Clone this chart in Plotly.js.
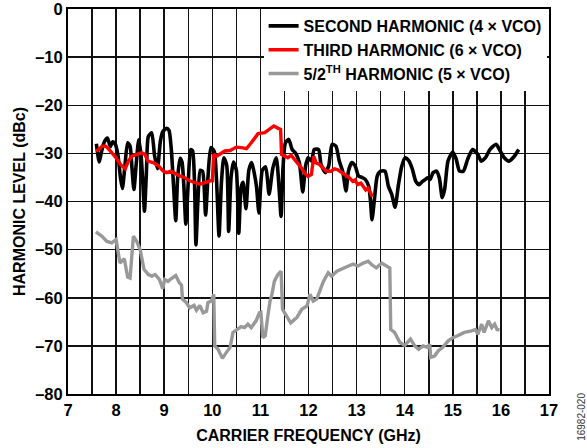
<!DOCTYPE html>
<html>
<head>
<meta charset="utf-8">
<script src="https://cdn.plot.ly/plotly-3.0.1.min.js"></script>
<style>html,body{margin:0;padding:0;background:#fff;}#chart{width:587px;height:448px;}</style>
</head>
<body>
<div id="chart"></div>
<script>
// SECOND HARMONIC (4 x VCO)
const secondX = [7.59,7.65,7.70,7.76,7.82,7.88,7.93,7.98,8.04,8.09,8.13,8.18,8.24,8.29,8.33,8.37,8.42,8.47,8.52,8.56,8.59,8.63,8.67,8.74,8.80,8.86,8.92,8.97,9.05,9.10,9.15,9.19,9.24,9.28,9.33,9.37,9.41,9.45,9.50,9.55,9.59,9.63,9.66,9.70,9.75,9.80,9.86,9.91,9.97,10.04,10.09,10.14,10.19,10.24,10.30,10.34,10.39,10.44,10.50,10.55,10.60,10.64,10.70,10.76,10.82,10.88,10.92,10.97,11.04,11.11,11.18,11.26,11.33,11.39,11.43,11.47,11.52,11.59,11.66,11.73,11.81,11.88,11.94,11.99,12.06,12.12,12.21,12.26,12.35,12.42,12.49,12.57,12.64,12.71,12.78,12.83,12.90,12.97,13.04,13.11,13.18,13.25,13.29,13.32,13.37,13.43,13.50,13.59,13.66,13.73,13.80,13.87,13.94,14.01,14.09,14.16,14.23,14.30,14.37,14.43,14.48,14.53,14.59,14.66,14.72,14.78,14.83,14.90,15.00,15.07,15.14,15.22,15.31,15.41,15.52,15.59,15.68,15.77,15.90,15.97,16.07,16.17,16.28,16.37];
const secondY = [-28.0,-31.8,-29.5,-27.5,-26.8,-28.6,-27.6,-28.0,-30.5,-35.0,-37.3,-33.0,-27.8,-28.5,-33.0,-37.5,-32.0,-27.2,-30.5,-37.0,-42.0,-34.0,-26.5,-25.7,-30.5,-33.2,-27.5,-25.5,-24.8,-25.2,-29.5,-36.0,-44.0,-35.0,-31.0,-31.8,-37.0,-44.7,-36.0,-29.2,-29.5,-36.0,-49.0,-40.0,-33.5,-33.8,-42.8,-35.0,-28.8,-29.6,-36.0,-47.2,-36.0,-30.9,-32.5,-46.2,-35.0,-31.8,-33.5,-46.6,-37.0,-36.0,-41.5,-33.5,-31.9,-34.5,-37.0,-42.4,-33.5,-32.8,-38.5,-33.0,-30.9,-37.5,-43.1,-33.0,-27.8,-27.1,-29.2,-29.9,-31.9,-38.0,-32.6,-30.9,-31.6,-29.2,-29.2,-32.3,-34.0,-32.6,-28.1,-28.5,-31.6,-33.7,-37.8,-33.7,-31.9,-32.6,-34.7,-35.0,-35.4,-36.8,-40.0,-43.8,-39.6,-34.7,-33.7,-33.7,-36.8,-38.5,-41.2,-36.5,-32.6,-30.9,-31.6,-33.3,-35.8,-36.5,-35.8,-35.4,-35.1,-35.4,-34.0,-33.7,-35.1,-39.2,-37.5,-31.6,-29.7,-31.2,-33.7,-33.7,-31.2,-29.2,-30.2,-31.6,-30.9,-29.2,-28.1,-29.2,-30.9,-31.6,-30.6,-29.2];

// THIRD HARMONIC (6 x VCO)
const thirdX = [7.58,7.64,7.71,7.78,7.82,7.88,7.99,8.09,8.19,8.26,8.33,8.43,8.53,8.60,8.66,8.77,8.88,8.98,9.05,9.14,9.25,9.32,9.42,9.53,9.63,9.74,9.85,9.95,10.00,10.03,10.09,10.16,10.26,10.37,10.50,10.61,10.71,10.81,10.95,11.09,11.19,11.28,11.37,11.42,11.44,11.50,11.57,11.64,11.71,11.78,11.85,11.92,11.99,12.06,12.11,12.16,12.23,12.30,12.37,12.47,12.54,12.61,12.69,12.78,12.85,12.92,12.97,13.02,13.09,13.14,13.19,13.24,13.30,13.33];
const thirdY = [-29.5,-29.2,-28.5,-28.5,-28.8,-29.5,-30.8,-32.3,-33.2,-31.5,-30.6,-30.2,-29.9,-30.2,-31.6,-31.9,-32.6,-33.7,-34.0,-33.7,-34.3,-34.7,-35.0,-35.7,-36.0,-36.4,-36.1,-35.7,-35.7,-30.2,-30.6,-30.2,-29.5,-29.4,-28.7,-28.8,-29.0,-27.8,-25.9,-25.7,-25.0,-24.3,-24.8,-25.0,-30.2,-30.6,-30.9,-30.4,-31.3,-32.0,-33.0,-34.1,-34.8,-34.4,-30.6,-32.0,-32.3,-33.0,-33.7,-33.7,-33.2,-33.4,-33.9,-34.6,-35.1,-35.8,-35.5,-36.5,-36.2,-36.9,-37.6,-37.2,-38.6,-39.0];

// 5/2TH HARMONIC (5 x VCO)
const halfX = [7.58,7.70,7.81,7.91,8.00,8.05,8.08,8.17,8.24,8.29,8.36,8.43,8.50,8.58,8.67,8.74,8.81,8.90,8.97,9.01,9.08,9.15,9.24,9.31,9.36,9.38,9.46,9.53,9.62,9.67,9.74,9.81,9.88,9.91,9.98,10.03,10.05,10.12,10.21,10.29,10.37,10.43,10.53,10.60,10.67,10.74,10.81,10.91,10.98,11.01,11.05,11.10,11.15,11.20,11.24,11.29,11.36,11.43,11.46,11.54,11.63,11.70,11.76,11.86,11.97,12.03,12.10,12.17,12.24,12.31,12.41,12.48,12.59,12.72,12.83,12.93,13.03,13.14,13.24,13.31,13.41,13.52,13.62,13.69,13.71,13.79,13.90,14.00,14.12,14.21,14.29,14.38,14.47,14.52,14.54,14.62,14.70,14.79,14.90,15.00,15.10,15.24,15.39,15.47,15.52,15.60,15.65,15.74,15.81,15.87,15.92,15.97];
const halfY = [-46.3,-47.2,-48.3,-48.6,-47.9,-50.7,-52.8,-51.9,-55.7,-55.9,-47.2,-48.3,-50.0,-54.1,-55.2,-55.5,-55.2,-56.2,-58.1,-56.2,-56.6,-56.0,-55.4,-56.8,-57.4,-60.3,-61.0,-62.1,-61.6,-62.6,-61.6,-63.1,-62.8,-61.0,-60.7,-59.3,-70.0,-70.7,-72.6,-71.4,-70.3,-67.2,-66.6,-66.0,-66.2,-65.5,-66.2,-64.8,-63.1,-63.0,-68.3,-67.9,-64.1,-60.7,-59.3,-56.6,-55.2,-54.5,-62.4,-63.8,-65.2,-64.6,-64.1,-62.4,-61.7,-59.3,-60.7,-60.3,-58.3,-56.6,-54.8,-55.5,-54.5,-53.8,-53.4,-53.0,-53.4,-52.8,-52.4,-53.1,-53.8,-52.8,-53.3,-53.8,-66.6,-67.2,-69.3,-69.9,-68.6,-70.0,-70.7,-70.0,-70.3,-69.7,-72.4,-72.1,-71.0,-70.3,-69.0,-68.3,-67.9,-67.2,-66.9,-66.6,-67.6,-65.5,-67.2,-64.8,-66.2,-65.5,-66.6,-66.7];

const xTickVals = [7,8,9,10,11,12,13,14,15,16,17];
const xTickText = ['7','8','9','10','11','12','13','14','15','16','17'];
const yTickVals = [-80,-70,-60,-50,-40,-30,-20,-10,0];
const yTickText = ['–80','–70','–60','–50','–40','–30','–20','–10','0'];

const FONT = 'Liberation Sans, Arial, Helvetica, sans-serif';
const bold = s => '<b>' + s + '</b>';

const traces = [
  {x: secondX, y: secondY, mode: 'lines', name: bold('SECOND HARMONIC (4 × VCO)'),
   line: {color: '#000000', width: 3.6, shape: 'spline', smoothing: 0.6}},
  {x: thirdX, y: thirdY, mode: 'lines', name: bold('THIRD HARMONIC (6 × VCO)'),
   line: {color: '#ff0000', width: 3.4}},
  {x: halfX, y: halfY, mode: 'lines', name: bold('5/2<sup>TH</sup> HARMONIC (5 × VCO)'),
   line: {color: '#999999', width: 3.4}}
];

const axisCommon = {
  showline: true, mirror: true, linecolor: '#000', linewidth: 2,
  showgrid: true, gridcolor: '#111', gridwidth: 1.5,
  zeroline: false, ticks: '', ticklabeloverflow: 'allow',
  tickfont: {family: FONT, size: 16.5, color: '#000'}
};

const layout = {
  width: 587, height: 448,
  margin: {l: 68, r: 38, t: 9, b: 54},
  paper_bgcolor: '#fff', plot_bgcolor: '#fff',
  showlegend: true,
  legend: {x: 0.995, xanchor: 'right', y: 1, yanchor: 'top', bgcolor: '#fff',
           borderwidth: 0, tracegroupgap: 0,
           font: {family: FONT, size: 16, color: '#000'}},
  xaxis: Object.assign({}, axisCommon, {
    range: [7, 17], tickmode: 'array', tickvals: xTickVals, ticktext: xTickText.map(bold),
    minor: {dtick: 0.5, showgrid: true, gridcolor: '#111', gridwidth: 1.5, ticks: ''},
    title: {text: bold('CARRIER FREQUENCY (GHz)'), standoff: 12,
            font: {family: FONT, size: 16, color: '#000'}}
  }),
  yaxis: Object.assign({}, axisCommon, {
    range: [-80, 0], tickmode: 'array', tickvals: yTickVals, ticktext: yTickText.map(bold),
    title: {text: bold('HARMONIC LEVEL (dBc)'), standoff: 6,
            font: {family: FONT, size: 16, color: '#000'}}
  }),
  annotations: [{
    text: '16982-020', xref: 'paper', yref: 'paper', x: 1.066, y: -0.06,
    showarrow: false, textangle: -90, xanchor: 'center', yanchor: 'middle',
    font: {family: FONT, size: 10, color: '#333'}
  }]
};

Plotly.newPlot('chart', traces, layout, {displayModeBar: false, staticPlot: true});
</script>
</body>
</html>
